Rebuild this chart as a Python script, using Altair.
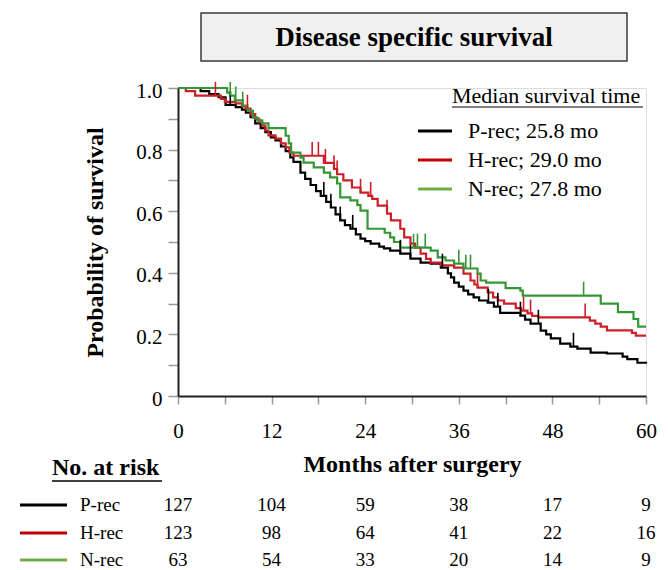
import altair as alt
import pandas as pd

groups = ["P-rec", "H-rec", "N-rec"]
curve_colors = ["#000000", "#cc1f27", "#369636"]
key_colors = ["#000000", "#c00000", "#70ad47"]
medians = ["25.8", "29.0", "27.8"]

# Kaplan-Meier step points (months, survival)
p_time = [0, 2.9, 4.0, 5.2, 6.1, 7.4, 8.2, 8.7, 9.3, 9.9, 10.6, 11.2, 11.9, 12.5, 13.2, 13.8,
          14.4, 14.8, 15.7, 16.3, 17.0, 17.7, 18.3, 19.0, 19.6, 20.2, 20.8, 21.4, 22.1, 22.8,
          23.4, 24.0, 24.7, 25.8, 26.4, 27.2, 28.5, 29.8, 31.1, 32.4, 33.7, 34.6, 35.0, 35.4,
          36.0, 36.6, 37.2, 37.9, 38.6, 39.7, 40.5, 41.3, 43.9, 44.5, 45.2, 46.5, 47.2, 47.8,
          49.0, 50.3, 51.2, 52.9, 55.0, 57.0, 57.6, 58.9, 60]
p_surv = [1.0, 0.99, 0.98, 0.97, 0.945, 0.938, 0.93, 0.92, 0.905, 0.885, 0.87, 0.857, 0.84,
          0.83, 0.81, 0.795, 0.775, 0.76, 0.725, 0.705, 0.685, 0.665, 0.65, 0.63, 0.612, 0.59,
          0.57, 0.555, 0.543, 0.525, 0.511, 0.503, 0.495, 0.485, 0.479, 0.472, 0.462, 0.446,
          0.433, 0.43, 0.417, 0.398, 0.385, 0.368, 0.355, 0.342, 0.33, 0.32, 0.31, 0.303, 0.29,
          0.27, 0.261, 0.248, 0.235, 0.212, 0.2, 0.187, 0.17, 0.16, 0.154, 0.141, 0.138, 0.128,
          0.12, 0.108, 0.105]
p_cens = [6.7, 18.7, 19.6, 20.8, 22.4, 28.5, 29.8, 33.9, 39.8, 41.0, 43.9, 46.2, 50.7]

h_time = [0, 1.0, 2.2, 5.5, 6.0, 7.4, 8.2, 8.7, 9.3, 9.9, 10.4, 10.8, 11.2, 11.6, 12.5, 13.2,
          13.8, 14.3, 14.8, 18.7, 20.0, 20.4, 21.2, 22.3, 23.4, 24.4, 24.9, 25.6, 26.8, 27.3,
          28.5, 29.0, 29.8, 30.4, 31.1, 31.8, 32.4, 33.7, 35.4, 36.6, 37.5, 38.0, 38.4, 39.7,
          40.4, 41.0, 41.8, 43.3, 44.0, 44.8, 45.4, 46.2, 52.8, 53.5, 54.2, 55.0, 58.2, 58.7, 60]
h_surv = [1.0, 0.99, 0.975, 0.965, 0.955, 0.95, 0.94, 0.933, 0.915, 0.9, 0.888, 0.878, 0.862,
          0.846, 0.836, 0.82, 0.807, 0.79, 0.78, 0.757, 0.737, 0.72, 0.7, 0.677, 0.66, 0.65,
          0.64, 0.618, 0.592, 0.57, 0.543, 0.515, 0.495, 0.482, 0.462, 0.445, 0.433, 0.424,
          0.417, 0.397, 0.375, 0.362, 0.352, 0.336, 0.32, 0.31, 0.3, 0.285, 0.277, 0.268, 0.26,
          0.255, 0.245, 0.235, 0.225, 0.213, 0.205, 0.196, 0.196]
h_cens = [4.8, 8.9, 17.2, 18.0, 18.9, 20.0, 20.4, 23.4, 24.7, 26.8, 38.4, 44.3, 45.2, 52.2]

n_time = [0, 6.3, 6.7, 7.3, 8.3, 8.9, 9.6, 10.2, 10.8, 11.6, 13.8, 14.2, 14.5, 15.7, 16.1,
          17.4, 18.7, 19.5, 20.4, 20.8, 22.1, 23.0, 23.4, 24.3, 26.5, 27.2, 27.7, 28.5, 32.4,
          33.3, 34.3, 35.4, 36.6, 38.4, 38.8, 39.5, 42.0, 43.9, 44.2, 54.2, 56.4, 58.4, 59.0, 60]
n_surv = [1.0, 0.985, 0.975, 0.96, 0.943, 0.927, 0.904, 0.895, 0.885, 0.87, 0.845, 0.82, 0.79,
          0.774, 0.758, 0.742, 0.725, 0.71, 0.69, 0.645, 0.635, 0.62, 0.602, 0.543, 0.53, 0.515,
          0.5, 0.482, 0.472, 0.45, 0.44, 0.43, 0.414, 0.397, 0.375, 0.368, 0.35, 0.342, 0.326,
          0.3, 0.272, 0.25, 0.225, 0.225]
n_cens = [6.7, 7.4, 8.3, 30.2, 30.7, 31.7, 36.0, 36.9, 37.5, 52.0]

risk_months = [0, 12, 24, 36, 48, 60]
p_risk = [127, 104, 59, 38, 17, 9]
h_risk = [123, 98, 64, 41, 22, 16]
n_risk = [63, 54, 33, 20, 14, 9]

title_text = "Disease specific survival"
x_title = "Months after surgery"
y_title = "Probability of survival"
key_title = "Median survival time"
risk_title = "No. at risk"

FONT = "Liberation Serif"

# ---- build tables ----
curve_rows, cens_rows = [], []
for g, ts, ss, cs in zip(groups, [p_time, h_time, n_time], [p_surv, h_surv, n_surv],
                         [p_cens, h_cens, n_cens]):
    for t, s in zip(ts, ss):
        curve_rows.append({"group": g, "time": t, "surv": s})
    for c in cs:
        s_at = [s for t, s in zip(ts, ss) if t <= c][-1]
        cens_rows.append({"group": g, "time": c, "surv": s_at, "top": s_at + 0.045})
curves = pd.DataFrame(curve_rows)
cens = pd.DataFrame(cens_rows)

x_axis = alt.Axis(
    values=list(range(0, 61, 6)),
    labelExpr="datum.value % 12 == 0 ? datum.label : ''",
    title=x_title, titleFont=FONT, titleFontSize=24, titleFontWeight="bold",
    titleColor="black", labelFont=FONT, labelFontSize=21, labelColor="black",
    tickColor="#9a9a9a", tickSize=8, tickWidth=1.5, domainColor="#222222", domainWidth=2,
    grid=False, labelPadding=16, titlePadding=11, labelFlush=False, labelOverlap=False)
y_axis = alt.Axis(
    values=[round(i * 0.1, 1) for i in range(11)],
    labelExpr="datum.value == 0 ? '0' : (round(datum.value * 10) % 2 == 0 ? format(datum.value, '.1f') : '')",
    title=y_title, titleFont=FONT, titleFontSize=24, titleFontWeight="bold",
    titleColor="black", labelFont=FONT, labelFontSize=21, labelColor="black",
    tickColor="#9a9a9a", tickSize=10, tickWidth=1.5, domainColor="#222222", domainWidth=2,
    grid=False, labelPadding=6, labelOffset=3, titlePadding=28, labelFlush=False,
    labelOverlap=False)

x_scale = alt.Scale(domain=[0, 60], nice=False, zero=False)
y_scale = alt.Scale(domain=[0, 1], nice=False)


def X(field="time"):
    return alt.X(f"{field}:Q", scale=x_scale, axis=x_axis, title=x_title)


color = alt.Color("group:N", scale=alt.Scale(domain=groups, range=curve_colors), legend=None)

lines = alt.Chart(curves).mark_line(interpolate="step-after", strokeWidth=2.2).encode(
    x=X(), y=alt.Y("surv:Q", scale=y_scale, axis=y_axis, title=y_title), color=color,
    detail="group:N")

ticks = alt.Chart(cens).mark_rule(strokeWidth=1.6).encode(
    x=X(), y=alt.Y("surv:Q", scale=y_scale, axis=y_axis, title=y_title), y2="top:Q", color=color)

layers = [lines, ticks]

# pixel helpers relative to plot origin (page x 178, page y 88)
def px(v):
    return v - 178


def py(v):
    return v - 88


one = pd.DataFrame({"t": [0]})

# title box
layers.append(alt.Chart(one).mark_rect(fill="#f0f0f0", stroke="#3a3a3a", strokeWidth=1.5).encode(
    x=alt.value(px(201)), x2=alt.value(px(627)), y=alt.value(py(13)), y2=alt.value(py(61))))
layers.append(alt.Chart(pd.DataFrame({"t": [title_text]})).mark_text(
    font=FONT, fontSize=27, fontWeight="bold", color="black", baseline="middle", align="center"
).encode(text="t:N", x=alt.value(px(414)), y=alt.value(py(38))))

# median key
layers.append(alt.Chart(pd.DataFrame({"t": [key_title]})).mark_text(
    font=FONT, fontSize=22, color="black", baseline="middle", align="left"
).encode(text="t:N", x=alt.value(px(452)), y=alt.value(py(96))))
layers.append(alt.Chart(one).mark_rule(color="black", strokeWidth=1.2).encode(
    x=alt.value(px(452)), x2=alt.value(px(643)), y=alt.value(py(107))))
key_y = [131, 160, 189]
for g, c, m, yy in zip(groups, key_colors, medians, key_y):
    layers.append(alt.Chart(one).mark_rule(color=c, strokeWidth=3).encode(
        x=alt.value(px(418)), x2=alt.value(px(452)), y=alt.value(py(yy))))
    layers.append(alt.Chart(pd.DataFrame({"t": [f"{g}; {m} mo"]})).mark_text(
        font=FONT, fontSize=22, color="black", baseline="middle", align="left"
    ).encode(text="t:N", x=alt.value(px(468)), y=alt.value(py(yy))))

# risk table
layers.append(alt.Chart(pd.DataFrame({"t": [risk_title]})).mark_text(
    font=FONT, fontSize=24, fontWeight="bold", color="black", baseline="middle", align="left"
).encode(text="t:N", x=alt.value(px(52)), y=alt.value(py(468))))
layers.append(alt.Chart(one).mark_rule(color="black", strokeWidth=1.5).encode(
    x=alt.value(px(52)), x2=alt.value(px(162)), y=alt.value(py(481))))
row_y = [505, 533, 560]
for g, c, vals, yy in zip(groups, key_colors, [p_risk, h_risk, n_risk], row_y):
    layers.append(alt.Chart(one).mark_rule(color=c, strokeWidth=3).encode(
        x=alt.value(px(20)), x2=alt.value(px(67)), y=alt.value(py(yy))))
    layers.append(alt.Chart(pd.DataFrame({"t": [g]})).mark_text(
        font=FONT, fontSize=19, color="black", baseline="middle", align="left"
    ).encode(text="t:N", x=alt.value(px(80)), y=alt.value(py(yy))))
    layers.append(alt.Chart(pd.DataFrame({"time": risk_months, "n": vals})).mark_text(
        font=FONT, fontSize=19, color="black", baseline="middle", align="center"
    ).encode(x=X(), y=alt.value(py(yy)), text="n:Q"))

chart = alt.layer(*layers).properties(
    width=468, height=308,
    autosize=alt.AutoSizeParams(type="none"),
    padding={"left": 170, "top": 80, "right": 14, "bottom": 174},
).configure_view(stroke=None).configure(background="white")

chart.save("out.html", embed_options={"renderer": "svg", "actions": False})
